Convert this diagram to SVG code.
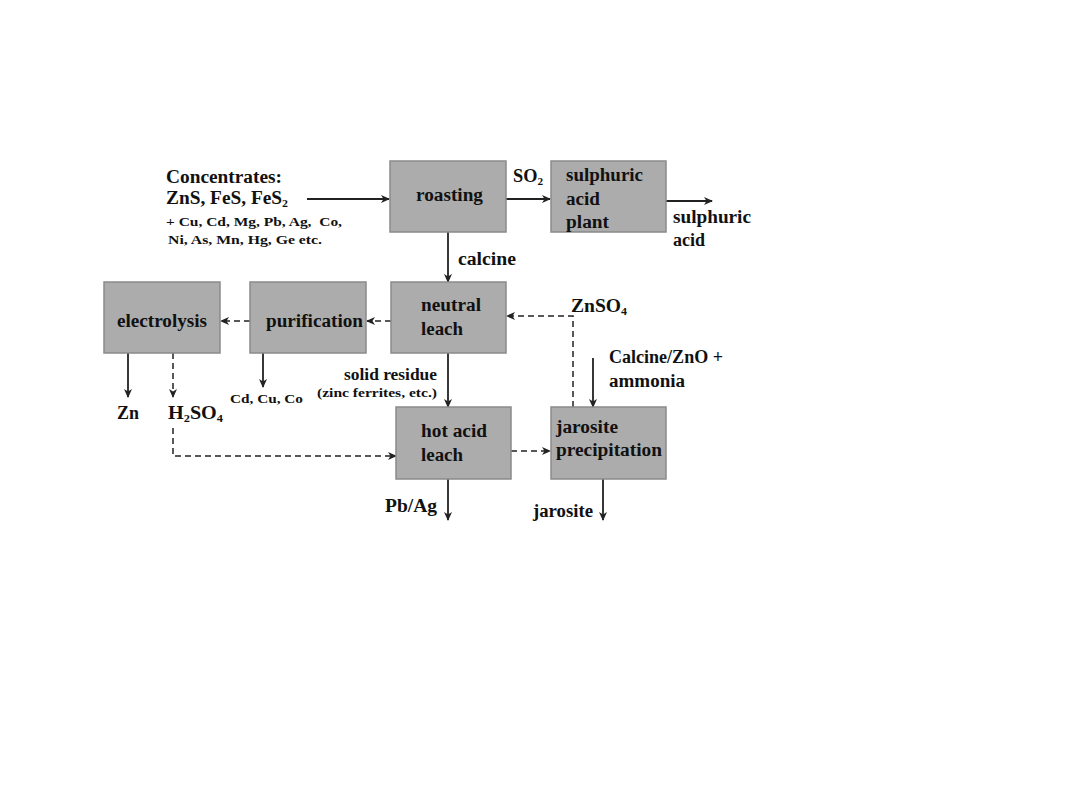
<svg xmlns="http://www.w3.org/2000/svg" width="1080" height="810" viewBox="0 0 1080 810">
<defs>
<marker id="ah" markerWidth="9" markerHeight="8" refX="8" refY="4" orient="auto" markerUnits="userSpaceOnUse">
<path d="M0,0 L9,4 L0,8 L2.5,4 Z" fill="#222"/>
</marker>
<style>
.box{fill:#acacac;stroke:#8a8a8a;stroke-width:1.5}
.t{font-family:"Liberation Serif","Times New Roman",serif;font-weight:bold;font-size:18px;fill:#111}
.s{font-family:"Liberation Serif","Times New Roman",serif;font-weight:bold;font-size:13px;fill:#111;white-space:pre}
.m{font-family:"Liberation Serif","Times New Roman",serif;font-weight:bold;font-size:16px;fill:#111}
.sub{font-size:11px}
.ln{stroke:#222;stroke-width:1.8;fill:none}
.ds{stroke:#222;stroke-width:1.5;fill:none;stroke-dasharray:6,4}
</style>
</defs>
<rect width="1080" height="810" fill="#fff"/>
<g id="connectors">
<line class="ln" x1="307" y1="199" x2="389" y2="199" marker-end="url(#ah)"/>
<line class="ln" x1="506" y1="199" x2="550" y2="199" marker-end="url(#ah)"/>
<line class="ln" x1="666" y1="201" x2="712" y2="201" marker-end="url(#ah)"/>
<line class="ln" x1="448" y1="232" x2="448" y2="282" marker-end="url(#ah)"/>
<line class="ds" x1="391" y1="321" x2="367" y2="321" marker-end="url(#ah)"/>
<line class="ds" x1="250" y1="321" x2="221" y2="321" marker-end="url(#ah)"/>
<line class="ln" x1="128" y1="353" x2="128" y2="397" marker-end="url(#ah)"/>
<line class="ds" x1="173" y1="353" x2="173" y2="397" marker-end="url(#ah)"/>
<line class="ln" x1="263" y1="353" x2="263" y2="387" marker-end="url(#ah)"/>
<line class="ln" x1="448" y1="353" x2="448" y2="407" marker-end="url(#ah)"/>
<polyline class="ds" points="173,428 173,456 396,456" marker-end="url(#ah)"/>
<polyline class="ds" points="573,407 573,316 507,316" marker-end="url(#ah)"/>
<line class="ln" x1="593" y1="358" x2="593" y2="407" marker-end="url(#ah)"/>
<line class="ds" x1="511" y1="451" x2="550" y2="451" marker-end="url(#ah)"/>
<line class="ln" x1="448" y1="479" x2="448" y2="520" marker-end="url(#ah)"/>
<line class="ln" x1="603" y1="479" x2="603" y2="520" marker-end="url(#ah)"/>
</g>
<g id="concentrates">
<text class="t" x="166" y="183" textLength="116" lengthAdjust="spacingAndGlyphs">Concentrates:</text>
<text class="t" x="166" y="204" textLength="122" lengthAdjust="spacingAndGlyphs">ZnS, FeS, FeS<tspan class="sub" dy="3">2</tspan></text>
<text class="s" x="166" y="226" textLength="176" lengthAdjust="spacingAndGlyphs" xml:space="preserve">+ Cu, Cd, Mg, Pb, Ag,  Co,</text>
<text class="s" x="168" y="244" textLength="154" lengthAdjust="spacingAndGlyphs">Ni, As, Mn, Hg, Ge etc.</text>
</g>
<g id="roasting">
<rect class="box" x="390" y="161" width="116" height="71"/>
<text class="t" x="416" y="201" textLength="67" lengthAdjust="spacingAndGlyphs">roasting</text>
</g>
<g id="so2-label">
<text class="t" x="513" y="182" textLength="30" lengthAdjust="spacingAndGlyphs">SO<tspan class="sub" dy="3">2</tspan></text>
</g>
<g id="sulphuric-acid-plant">
<rect class="box" x="551" y="161" width="115" height="71"/>
<text class="t" x="566" y="181" textLength="77" lengthAdjust="spacingAndGlyphs">sulphuric</text>
<text class="t" x="566" y="205" textLength="34" lengthAdjust="spacingAndGlyphs">acid</text>
<text class="t" x="566" y="228" textLength="43" lengthAdjust="spacingAndGlyphs">plant</text>
</g>
<g id="sulphuric-acid-out">
<text class="t" x="673" y="223" textLength="78" lengthAdjust="spacingAndGlyphs">sulphuric</text>
<text class="t" x="673" y="246" textLength="32" lengthAdjust="spacingAndGlyphs">acid</text>
</g>
<g id="calcine-label">
<text class="t" x="458" y="265" textLength="58" lengthAdjust="spacingAndGlyphs">calcine</text>
</g>
<g id="neutral-leach">
<rect class="box" x="391" y="282" width="115" height="71"/>
<text class="t" x="421" y="311" textLength="60" lengthAdjust="spacingAndGlyphs">neutral</text>
<text class="t" x="421" y="335" textLength="42" lengthAdjust="spacingAndGlyphs">leach</text>
</g>
<g id="purification">
<rect class="box" x="250" y="282" width="116" height="71"/>
<text class="t" x="266" y="327" textLength="97" lengthAdjust="spacingAndGlyphs">purification</text>
</g>
<g id="electrolysis">
<rect class="box" x="104" y="282" width="116" height="71"/>
<text class="t" x="117" y="327" textLength="90" lengthAdjust="spacingAndGlyphs">electrolysis</text>
</g>
<g id="znso4-label">
<text class="t" x="571" y="312" textLength="56" lengthAdjust="spacingAndGlyphs">ZnSO<tspan class="sub" dy="3">4</tspan></text>
</g>
<g id="calcine-zno-label">
<text class="t" x="609" y="363" textLength="114" lengthAdjust="spacingAndGlyphs">Calcine/ZnO +</text>
<text class="t" x="609" y="387" textLength="76" lengthAdjust="spacingAndGlyphs">ammonia</text>
</g>
<g id="solid-residue-label">
<text class="m" x="344" y="380" textLength="93" lengthAdjust="spacingAndGlyphs">solid residue</text>
<text class="s" x="317" y="397" textLength="120" lengthAdjust="spacingAndGlyphs">(zinc ferrites, etc.)</text>
</g>
<g id="cd-cu-co">
<text class="s" x="230" y="403" textLength="73" lengthAdjust="spacingAndGlyphs">Cd, Cu, Co</text>
</g>
<g id="zn-out">
<text class="t" x="117" y="419" textLength="22" lengthAdjust="spacingAndGlyphs">Zn</text>
</g>
<g id="h2so4">
<text class="t" x="168" y="419" textLength="55" lengthAdjust="spacingAndGlyphs">H<tspan class="sub" dy="3">2</tspan><tspan dy="-3">SO</tspan><tspan class="sub" dy="3">4</tspan></text>
</g>
<g id="hot-acid-leach">
<rect class="box" x="396" y="407" width="115" height="72"/>
<text class="t" x="421" y="437" textLength="66" lengthAdjust="spacingAndGlyphs">hot acid</text>
<text class="t" x="421" y="461" textLength="42" lengthAdjust="spacingAndGlyphs">leach</text>
</g>
<g id="jarosite-precipitation">
<rect class="box" x="551" y="407" width="115" height="72"/>
<text class="t" x="556" y="433" textLength="62" lengthAdjust="spacingAndGlyphs">jarosite</text>
<text class="t" x="556" y="456" textLength="106" lengthAdjust="spacingAndGlyphs">precipitation</text>
</g>
<g id="pb-ag">
<text class="t" x="385" y="512" textLength="52" lengthAdjust="spacingAndGlyphs">Pb/Ag</text>
</g>
<g id="jarosite-out">
<text class="t" x="533" y="517" textLength="60" lengthAdjust="spacingAndGlyphs">jarosite</text>
</g>
</svg>
